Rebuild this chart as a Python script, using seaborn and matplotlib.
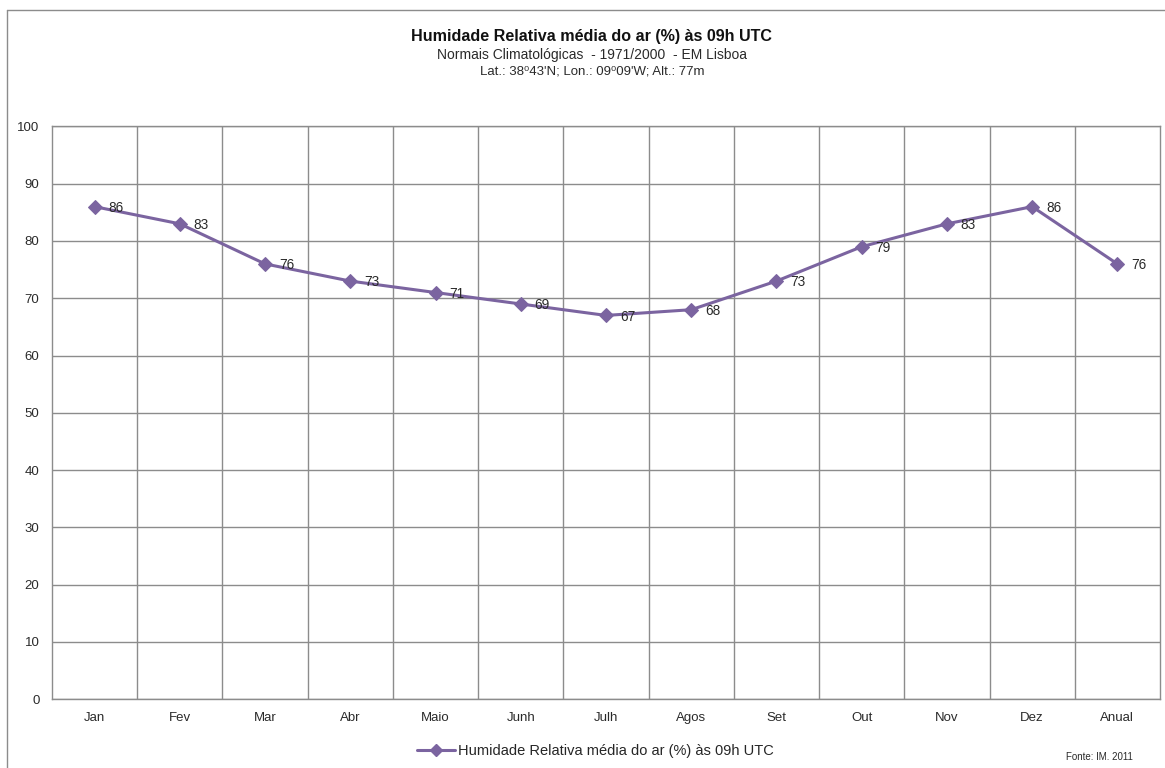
import matplotlib
matplotlib.use("Agg")
import matplotlib.pyplot as plt
import seaborn as sns
import pandas as pd
from matplotlib.lines import Line2D

months = ["Jan", "Fev", "Mar", "Abr", "Maio", "Junh", "Julh", "Agos", "Set", "Out", "Nov", "Dez", "Anual"]
humidity = [86, 83, 76, 73, 71, 69, 67, 68, 73, 79, 83, 86, 76]
yticks = [0, 10, 20, 30, 40, 50, 60, 70, 80, 90, 100]
series_name = "Humidade Relativa média do ar (%) às 09h UTC"

sns.set_theme(style="white")
plt.rcParams['font.family'] = ['Liberation Sans', 'DejaVu Sans']

color = "#7B64A0"
grid_c = "#8C8C8C"
text_c = "#2A2A2A"

df = pd.DataFrame({"mes": months, "hr": humidity})

fig = plt.figure(figsize=(11.65, 7.68), dpi=100)
ax = fig.add_axes([0.0446, 0.0898, 0.9511, 0.7455])

sns.lineplot(data=df, x="mes", y="hr", ax=ax, color=color, linewidth=2.2,
             marker="D", markersize=7, markeredgecolor=color, markerfacecolor=color,
             sort=False, legend=False)

ax.set_xlim(-0.5, len(months) - 0.5)
ax.set_ylim(0, 100)
ax.set_yticks(yticks)
ax.set_yticklabels([str(v) for v in yticks], fontsize=9.5, color=text_c)
ax.set_xticks(range(len(months)))
ax.set_xticklabels(months, fontsize=9.5, color=text_c)
ax.set_xticks([i + 0.5 for i in range(len(months) - 1)], minor=True)
ax.tick_params(axis="both", which="both", length=0, pad=9)
ax.set_xlabel("")
ax.set_ylabel("")

ax.grid(False)
ax.yaxis.grid(True, which="major", color=grid_c, linewidth=1)
ax.xaxis.grid(True, which="minor", color=grid_c, linewidth=1)
ax.set_axisbelow(True)
for s in ax.spines.values():
    s.set_color(grid_c)
    s.set_linewidth(1)

for i, v in enumerate(humidity):
    ax.annotate(str(v), (i, v), xytext=(10, -1), textcoords="offset points",
                ha="left", va="center", fontsize=9.8, color=text_c)

# chart border (left and top)
fig.add_artist(Line2D([7 / 1165, 7 / 1165], [0, 1 - 10 / 768], transform=fig.transFigure,
                      color="#8C8C8C", linewidth=1))
fig.add_artist(Line2D([7 / 1165, 1], [1 - 10 / 768, 1 - 10 / 768], transform=fig.transFigure,
                      color="#8C8C8C", linewidth=1))

fig.text(0.508, 1 - 36 / 768, series_name, ha="center", va="center",
         fontsize=11.6, fontweight="bold", color="#111111")
fig.text(0.508, 1 - 55 / 768, "Normais Climatológicas  - 1971/2000  - EM Lisboa",
         ha="center", va="center", fontsize=10, color=text_c)
fig.text(0.508, 1 - 72 / 768, "Lat.: 38\u207043'N; Lon.: 09\u207009'W; Alt.: 77m",
         ha="center", va="center", fontsize=9.5, color=text_c)

# legend
handle = Line2D([], [], color=color, linewidth=2.2, marker="D", markersize=6)
fig.legend([handle], [series_name], loc="center", bbox_to_anchor=(0.511, 1 - 751 / 768),
           frameon=False, fontsize=10.5, handlelength=2.6, handletextpad=0.2)

fig.text(0.972, 1 - 757 / 768, "Fonte: IM. 2011", ha="right", va="center",
         fontsize=7, color=text_c)

fig.savefig("out.png", dpi=100, facecolor="white")
